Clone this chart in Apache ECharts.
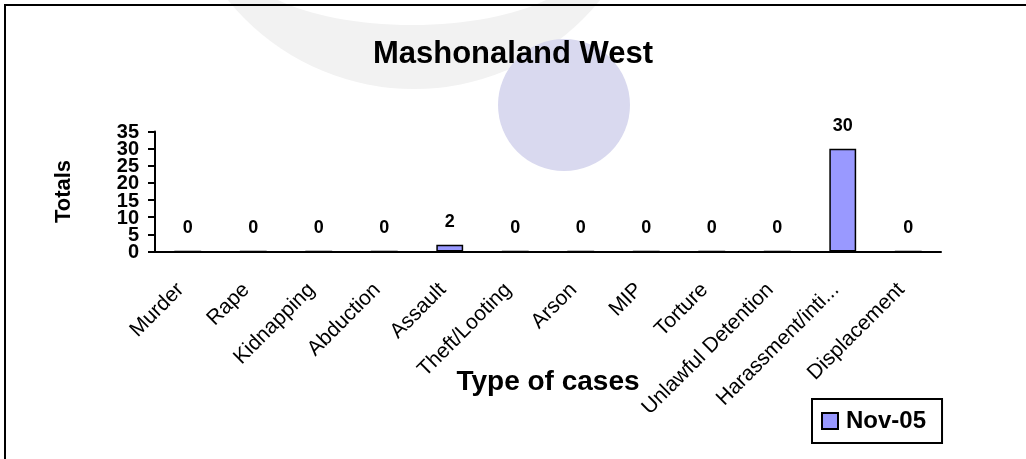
<!DOCTYPE html>
<html>
<head>
<meta charset="utf-8">
<title>Mashonaland West</title>
<script src="https://cdn.jsdelivr.net/npm/echarts@6/dist/echarts.min.js"></script>
<style>
    html, body { margin: 0; padding: 0; background: #fff; }
    #chart { width: 1026px; height: 459px; }
</style>
</head>
<body>
<div id="chart"></div>
<script>
var categories = ['Murder', 'Rape', 'Kidnapping', 'Abduction', 'Assault', 'Theft/Looting',
    'Arson', 'MIP', 'Torture', 'Unlawful Detention', 'Harassment/inti...', 'Displacement'];
var seriesName = 'Nov-05';
var totals = [0, 0, 0, 0, 2, 0, 0, 0, 0, 0, 30, 0];
var yTicks = [0, 5, 10, 15, 20, 25, 30, 35];

var myChart = echarts.init(document.getElementById('chart'));

var font = 'Liberation Sans, Arial, sans-serif';

// y tick labels sit very close together, echarts would drop some of them,
// so they are drawn by a small custom series on the same y scale
function renderTickLabel(params, api) {
    var p = api.coord([0, api.value(1)]);
    return {
        type: 'text',
        silent: true,
        style: {
            x: params.coordSys.x - 16,
            y: p[1] + 1,
            text: String(api.value(1)),
            align: 'right',
            verticalAlign: 'middle',
            fontSize: 20,
            fontWeight: 'bold',
            fontFamily: font,
            fill: '#000'
        }
    };
}

var option = {
    animation: false,
    backgroundColor: '#fff',
    textStyle: { fontFamily: font },
    // watermark shapes and the frame
    graphic: [
        {
            type: 'circle', z: -10, silent: true,
            shape: { cx: 414, cy: -150, r: 239 },
            style: { fill: '#f2f2f2' }
        },
        {
            type: 'ellipse', z: -9, silent: true,
            shape: { cx: 412, cy: -40, rx: 170, ry: 65 },
            style: { fill: '#fff' }
        },
        {
            type: 'circle', z: -8, silent: true,
            shape: { cx: 564, cy: 105, r: 66 },
            style: { fill: '#d9d9ef' }
        },
        {
            type: 'rect', z: 100, silent: true,
            shape: { x: 5, y: 5, width: 1040, height: 480 },
            style: { fill: 'none', stroke: '#000', lineWidth: 2 }
        }
    ],
    title: {
        text: 'Mashonaland West',
        left: 'center',
        top: 39,
        padding: 0,
        textStyle: { fontSize: 31, fontWeight: 'bold', color: '#000', fontFamily: font }
    },
    legend: {
        data: [seriesName],
        left: 812,
        top: 399,
        orient: 'vertical',
        icon: 'rect',
        itemWidth: 16,
        itemHeight: 16,
        itemGap: 0,
        padding: [10, 16, 10, 9],
        borderColor: '#000',
        borderWidth: 2,
        textStyle: { fontSize: 24, fontWeight: 'bold', color: '#000', fontFamily: font, padding: [0, 0, 0, 3] }
    },
    grid: { left: 155, right: 85, top: 131.5, bottom: 207.5 },
    xAxis: {
        type: 'category',
        data: categories,
        name: 'Type of cases',
        nameLocation: 'middle',
        nameGap: 117,
        nameMoveOverlap: false,
        nameTextStyle: { fontSize: 28, fontWeight: 'bold', color: '#000', fontFamily: font },
        axisLine: { lineStyle: { color: '#000', width: 2 } },
        axisTick: { alignWithLabel: false, length: 7, lineStyle: { color: '#000', width: 2 } },
        axisLabel: {
            interval: 0,
            rotate: 45,
            margin: 28,
            fontSize: 21,
            color: '#000',
            fontFamily: font,
            padding: [0, 10, 0, 0]
        }
    },
    yAxis: {
        type: 'value',
        min: yTicks[0],
        max: yTicks[yTicks.length - 1],
        interval: 5,
        name: 'Totals',
        nameLocation: 'middle',
        nameGap: 80,
        nameMoveOverlap: false,
        nameTextStyle: { fontSize: 22, fontWeight: 'bold', color: '#000', fontFamily: font },
        axisLine: { show: true, lineStyle: { color: '#000', width: 2 } },
        axisTick: { show: true, length: 7, lineStyle: { color: '#000', width: 2 } },
        axisLabel: { show: false },
        splitLine: { show: false }
    },
    series: [
        {
            name: seriesName,
            type: 'bar',
            data: totals,
            barWidth: '41%',
            itemStyle: { color: '#9999ff', borderColor: '#000', borderWidth: 1.5 },
            label: {
                show: true,
                position: 'top',
                distance: 14,
                fontSize: 18,
                fontWeight: 'bold',
                color: '#000',
                fontFamily: font
            }
        },
        {
            name: 'yTickLabels',
            type: 'custom',
            clip: false,
            silent: true,
            z: 5,
            data: yTicks.map(function (v) { return [0, v]; }),
            renderItem: renderTickLabel
        }
    ]
};

myChart.setOption(option);
</script>
</body>
</html>
